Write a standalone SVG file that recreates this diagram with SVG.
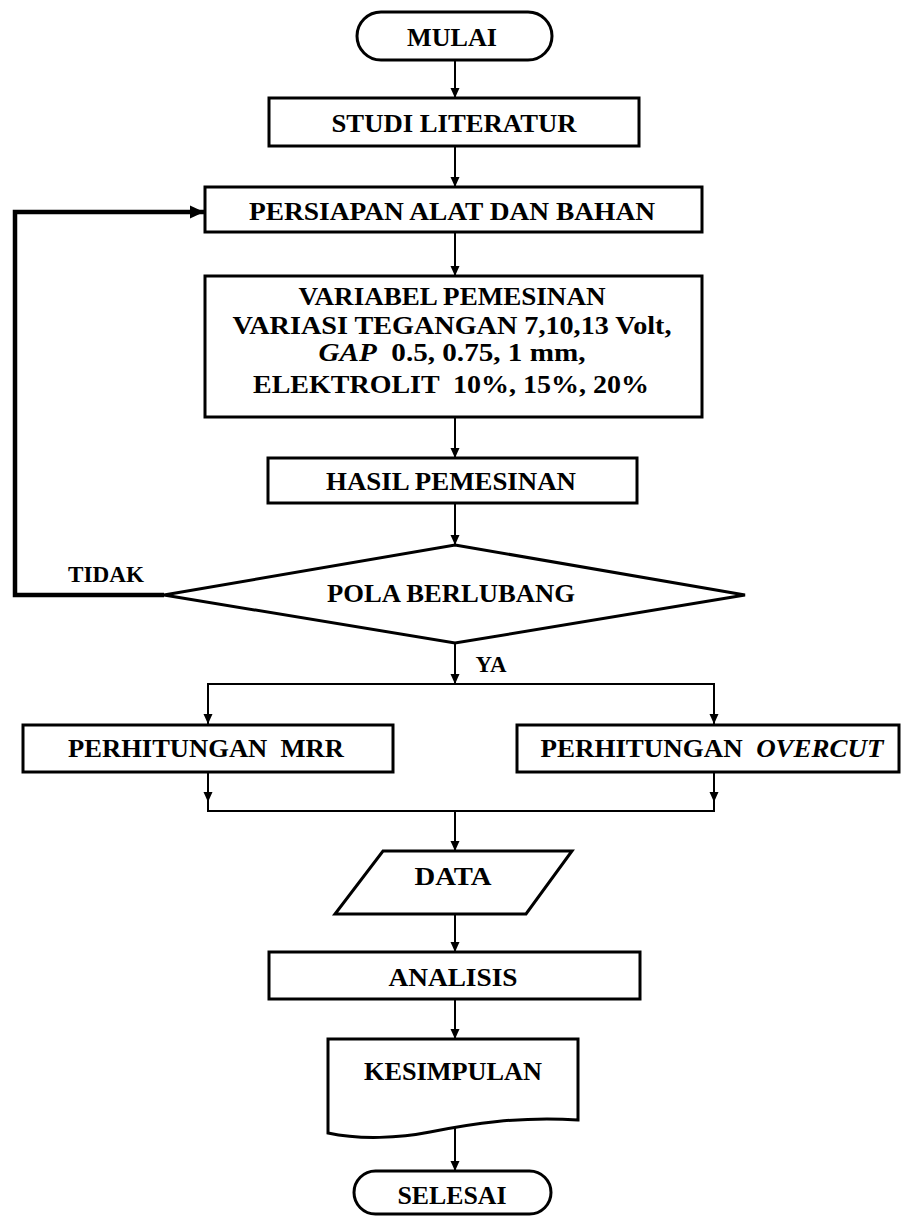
<svg xmlns="http://www.w3.org/2000/svg" width="902" height="1216" viewBox="0 0 902 1216">
<style>
.shape{fill:#fff;stroke:#000;stroke-width:3}
.t{font-family:"Liberation Serif","Times New Roman","DejaVu Serif",serif;font-weight:bold;font-size:26px;fill:#000;text-anchor:middle}
.i{font-style:italic}
.c{fill:none;stroke:#000;stroke-width:2}
.loop{fill:none;stroke:#000;stroke-width:4.5}
</style>
<defs>
<marker id="ah" markerUnits="userSpaceOnUse" markerWidth="10" markerHeight="12" refX="10" refY="5" orient="auto">
<path d="M0,0.5 L10,5 L0,9.5 z" fill="#000"/>
</marker>
<marker id="ahb" markerUnits="userSpaceOnUse" markerWidth="14" markerHeight="14" refX="14" refY="7" orient="auto">
<path d="M0,0.5 L14,7 L0,13.5 z" fill="#000"/>
</marker>
</defs>
<rect width="902" height="1216" fill="#fff"/>
<g id="connectors">
<line class="c" x1="455" y1="60" x2="455" y2="98" marker-end="url(#ah)"/>
<line class="c" x1="455" y1="146" x2="455" y2="187" marker-end="url(#ah)"/>
<line class="c" x1="455" y1="232" x2="455" y2="276" marker-end="url(#ah)"/>
<line class="c" x1="455" y1="417" x2="455" y2="458" marker-end="url(#ah)"/>
<line class="c" x1="455" y1="503" x2="455" y2="545" marker-end="url(#ah)"/>
<polyline class="loop" points="164,595 15,595 15,212 204,212" marker-end="url(#ahb)"/>
<line class="c" x1="455" y1="643" x2="455" y2="684" marker-end="url(#ah)"/>
<polyline class="c" points="208,700 208,684 714,684 714,700"/>
<line class="c" x1="208" y1="684" x2="208" y2="724" marker-end="url(#ah)"/>
<line class="c" x1="714" y1="684" x2="714" y2="724" marker-end="url(#ah)"/>
<line class="c" x1="208" y1="772" x2="208" y2="802" marker-end="url(#ah)"/>
<line class="c" x1="714" y1="772" x2="714" y2="802" marker-end="url(#ah)"/>
<polyline class="c" points="208,800 208,811 714,811 714,800"/>
<line class="c" x1="455" y1="811" x2="455" y2="851" marker-end="url(#ah)"/>
<line class="c" x1="455" y1="914" x2="455" y2="952" marker-end="url(#ah)"/>
<line class="c" x1="455" y1="999" x2="455" y2="1039" marker-end="url(#ah)"/>
<line class="c" x1="455" y1="1127" x2="455" y2="1171" marker-end="url(#ah)"/>
<text class="t" x="106" y="582" style="font-size:24px" textLength="76" lengthAdjust="spacingAndGlyphs">TIDAK</text>
<text class="t" x="491" y="672" style="font-size:24px" textLength="31" lengthAdjust="spacingAndGlyphs">YA</text>
</g>
<g id="mulai">
<rect class="shape" x="357" y="12" width="195" height="48" rx="24"/>
<text class="t" x="452" y="46" textLength="90" lengthAdjust="spacingAndGlyphs">MULAI</text>
</g>
<g id="studi">
<rect class="shape" x="269" y="98" width="370" height="48"/>
<text class="t" x="454" y="132" textLength="245" lengthAdjust="spacingAndGlyphs">STUDI LITERATUR</text>
</g>
<g id="persiapan">
<rect class="shape" x="205" y="187" width="497" height="45"/>
<text class="t" x="452" y="220" textLength="406" lengthAdjust="spacingAndGlyphs">PERSIAPAN ALAT DAN BAHAN</text>
</g>
<g id="variabel">
<rect class="shape" x="205" y="276" width="497" height="141"/>
<text class="t" x="452" y="305" textLength="307" lengthAdjust="spacingAndGlyphs">VARIABEL PEMESINAN</text>
<text class="t" x="452" y="334" textLength="439" lengthAdjust="spacingAndGlyphs">VARIASI TEGANGAN 7,10,13 Volt,</text>
<text class="t" x="452" y="361" xml:space="preserve" textLength="267" lengthAdjust="spacingAndGlyphs"><tspan class="i">GAP</tspan>  0.5, 0.75, 1 mm,</text>
<text class="t" x="451" y="393" xml:space="preserve" textLength="396" lengthAdjust="spacingAndGlyphs">ELEKTROLIT  10%, 15%, 20%</text>
</g>
<g id="hasil">
<rect class="shape" x="268" y="458" width="369" height="45"/>
<text class="t" x="451" y="490" textLength="250" lengthAdjust="spacingAndGlyphs">HASIL PEMESINAN</text>
</g>
<g id="pola">
<polygon class="shape" points="455,545 745,595 455,643 164,595"/>
<text class="t" x="451" y="602" textLength="248" lengthAdjust="spacingAndGlyphs">POLA BERLUBANG</text>
</g>
<g id="mrr">
<rect class="shape" x="23" y="725" width="370" height="47"/>
<text class="t" x="206" y="757" xml:space="preserve" textLength="276" lengthAdjust="spacingAndGlyphs">PERHITUNGAN  MRR</text>
</g>
<g id="overcut">
<rect class="shape" x="517" y="725" width="382" height="47"/>
<text class="t" x="712" y="757" xml:space="preserve" textLength="343" lengthAdjust="spacingAndGlyphs">PERHITUNGAN  <tspan class="i">OVERCUT</tspan></text>
</g>
<g id="data">
<polygon class="shape" points="383,851 572,851 526,914 335,914"/>
<text class="t" x="453" y="885" textLength="77" lengthAdjust="spacingAndGlyphs">DATA</text>
</g>
<g id="analisis">
<rect class="shape" x="269" y="952" width="371" height="47"/>
<text class="t" x="453" y="986" textLength="129" lengthAdjust="spacingAndGlyphs">ANALISIS</text>
</g>
<g id="kesimpulan">
<path class="shape" d="M328,1039 H578 V1120 C520,1116 470,1124 430,1132 C400,1138 360,1140 328,1133 Z"/>
<text class="t" x="453" y="1080" textLength="178" lengthAdjust="spacingAndGlyphs">KESIMPULAN</text>
</g>
<g id="selesai">
<rect class="shape" x="354" y="1171" width="197" height="43" rx="21.5"/>
<text class="t" x="452" y="1204" textLength="109" lengthAdjust="spacingAndGlyphs">SELESAI</text>
</g>
</svg>
